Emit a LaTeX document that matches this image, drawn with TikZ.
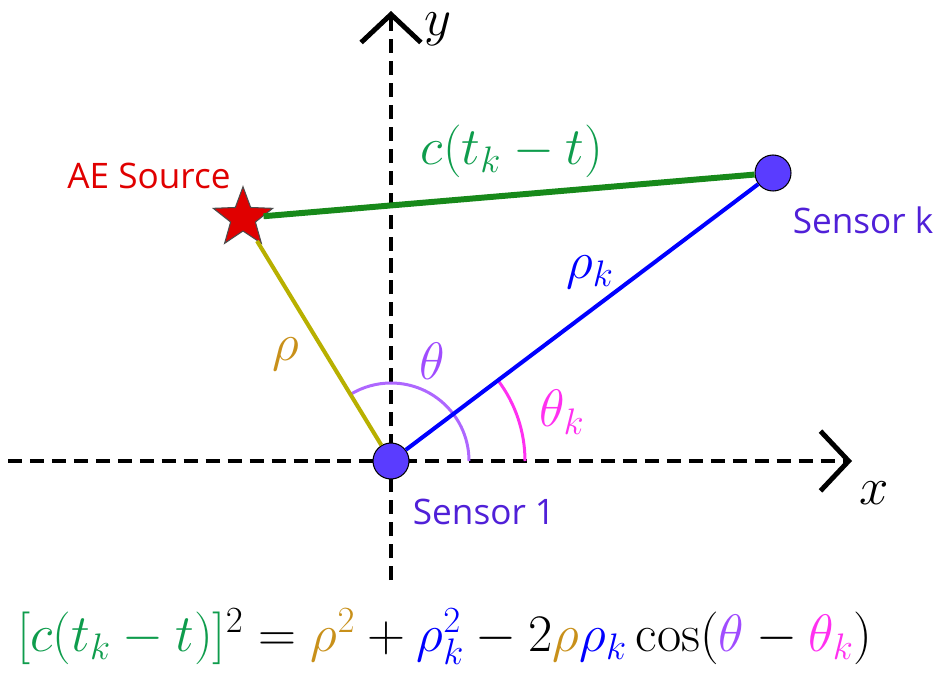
\RequirePackage{fix-cm}
\documentclass[tikz,border=0pt]{standalone}
\usepackage{fontspec}
\newfontfamily\labelfont{Open Sans}
\usetikzlibrary{arrows.meta,shapes.geometric}
\definecolor{srcred}{HTML}{E00000}
\definecolor{sensorfill}{HTML}{5A3CFF}
\definecolor{sensortext}{HTML}{5020D8}
\definecolor{pathgreen}{HTML}{17891A}
\definecolor{eqgreen}{HTML}{0E9C4C}
\definecolor{rholine}{HTML}{B8B000}
\definecolor{rhotext}{HTML}{C8901A}
\definecolor{thetacol}{HTML}{A04CFF}
\definecolor{thetakcol}{HTML}{FF30F0}
\newcommand{\bigmath}{\fontsize{30}{34}\selectfont}
\newcommand{\lbl}{\labelfont\fontsize{20}{23}\selectfont}

\begin{document}
\begin{tikzpicture}[x=0.02cm, y=0.02cm,
 axis/.style={line width=2.3pt, dash pattern=on 8pt off 4.5pt,
   -{Straight Barb[length=16pt,width=34pt,line width=2.8pt]}},
 sensor/.style={circle, draw=black, line width=0.6pt, fill=sensorfill,
   minimum size=0.72cm, inner sep=0pt},
 source/.style={star, star points=5, star point ratio=2.4, draw=black!70,
   line width=0.6pt, fill=srcred, minimum size=1.25cm, inner sep=0pt},
 tag/.style={font=\lbl},
 sym/.style={font=\bigmath}]
\useasboundingbox (0,0) rectangle (942,677);

% axes
\coordinate (xstart) at (8,216);
\coordinate (xend) at (852,216);
\coordinate (ystart) at (391,97);
\coordinate (yend) at (391,666);
\draw[axis] (xstart) -- (xend);
\draw[axis] (ystart) -- (yend);
\node[sym, inner sep=1pt] (xlabel) at (874,184) {$x$};
\node[sym, inner sep=1pt] (ylabel) at (438,648) {$y$};

% angles
\coordinate (origin) at (391,216);
\draw[thetacol!85, line width=1.7pt] (origin) ++(78,0) arc[start angle=0, end angle=121.3, radius=78];
\draw[thetakcol, line width=1.7pt] (origin) ++(134,0) arc[start angle=0, end angle=37, radius=134];

% source and sensors
\node[source] (src) at (243,459) {};
\node[sensor] (s1) at (origin) {};
\node[sensor] (sk) at (773,504) {};

% distances
\draw[pathgreen, line width=3.4pt] (src) -- (sk);
\draw[rholine, line width=2.3pt] (src) -- (s1);
\draw[blue, line width=2.3pt] (s1) -- (sk);

% labels
\node[tag, text=srcred] (srclabel) at (149,501) {AE Source};
\node[tag, text=sensortext] (sklabel) at (863,457) {Sensor k};
\node[tag, text=sensortext] (s1label) at (484,165) {Sensor 1};
\node[sym, text=eqgreen] (pathlabel) at (512,526) {$c(t_k-t)$};
\node[sym, text=blue] (rhoklabel) at (590,405) {$\rho_k$};
\node[sym, text=rhotext] (rholabel) at (286,323) {$\rho$};
\node[sym, text=thetacol] (thetalabel) at (432,316) {$\theta$};
\node[sym, text=thetakcol] (thetaklabel) at (562,265) {$\theta_k$};

% law of cosines
\node[sym] (law) at (445,40) {$\color{eqgreen}[c(t_k-t)]\color{black}^2
 = {\color{rhotext}\rho^2} + {\color{blue}\rho_k^2}
 - 2{\color{rhotext}\rho}{\color{blue}\rho_k}\cos({\color{thetacol}\theta}
 - {\color{thetakcol}\theta_k})$};
\end{tikzpicture}
\end{document}
